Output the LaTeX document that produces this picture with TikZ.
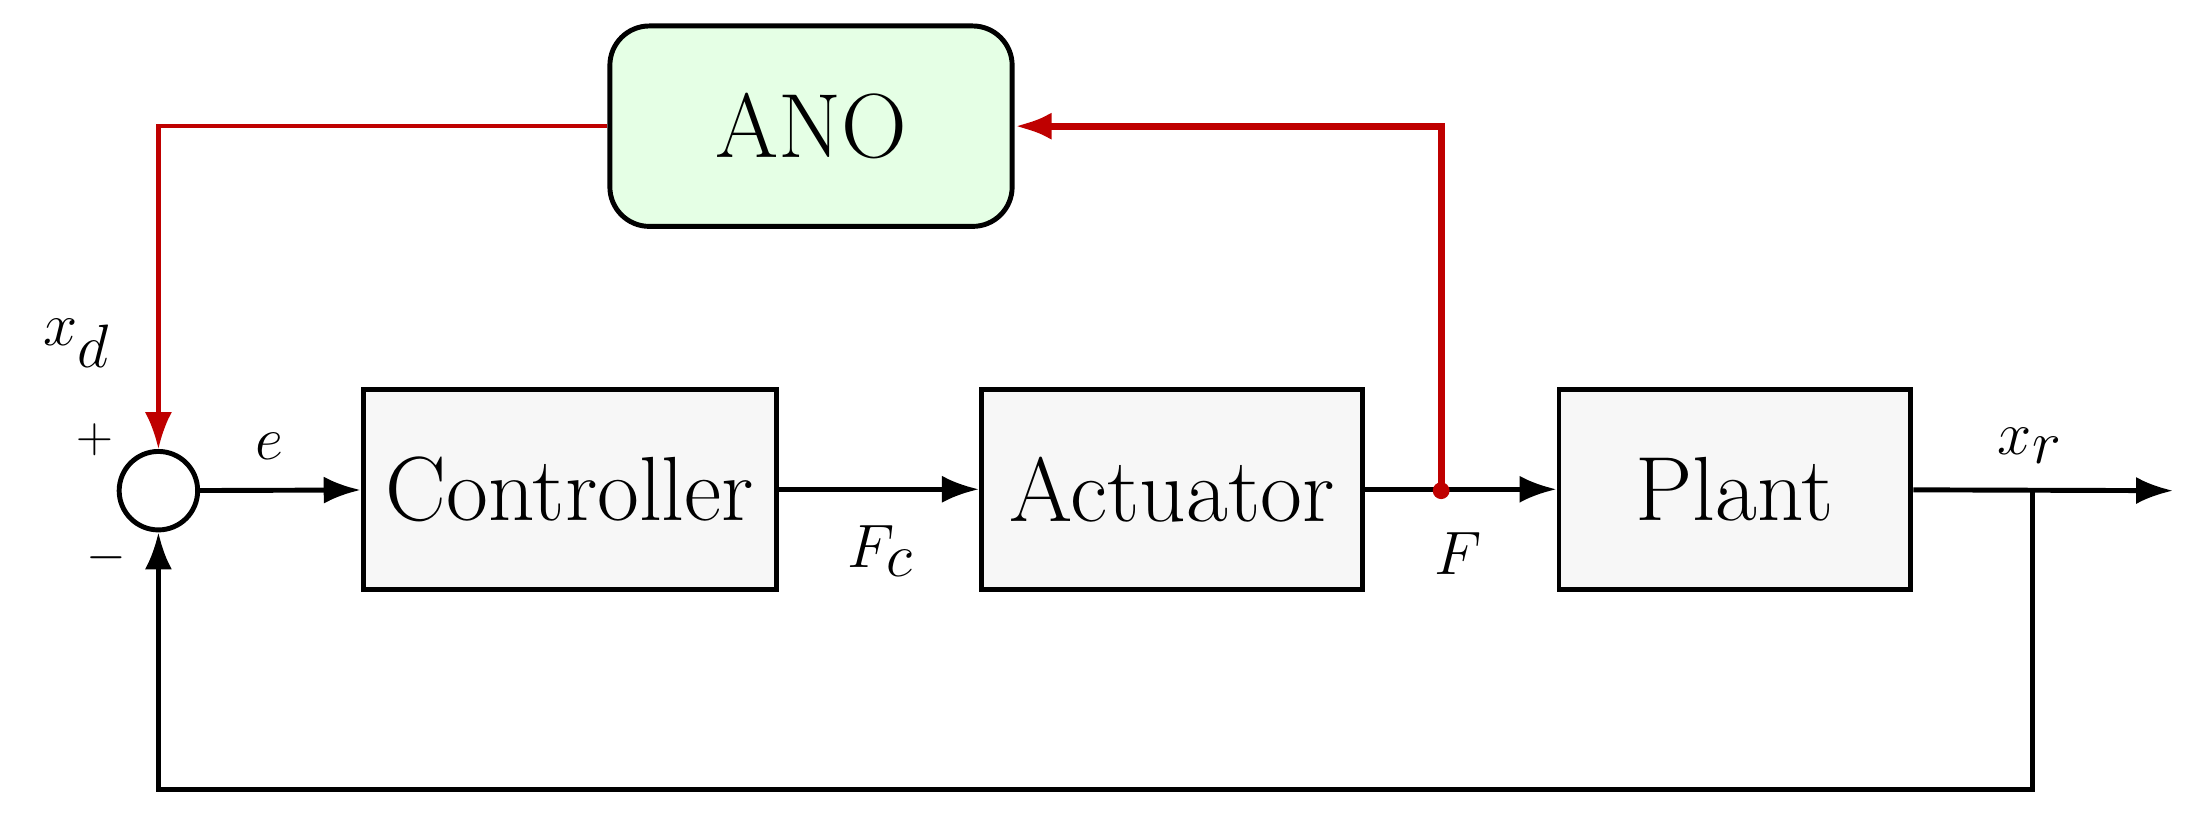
\documentclass[tikz,border=0pt]{standalone}
\usetikzlibrary{arrows.meta}
\begin{document}
\begin{tikzpicture}[x=0.02cm,y=-0.02cm,
  blk/.style={draw,line width=2pt,fill=black!3,minimum width=5.9cm,minimum height=2.86cm,font=\fontsize{37}{44}\selectfont},
  wire/.style={line width=2pt},
  arr/.style={-{Latex[length=15pt,width=11pt]}},
  lbl/.style={font=\fontsize{37}{44}\selectfont},
  red1/.style={draw=red!75!black,line width=1.7pt},
  red2/.style={draw=red!75!black,line width=2.8pt}]
\useasboundingbox (0,0) rectangle (1560,592);
\node[draw,circle,line width=2pt,minimum size=1.12cm,inner sep=0] (sum) at (113,350) {};
\node[blk] (ctl) at (406.5,349) {Controller};
\node[blk,minimum width=5.44cm] (act) at (836,349) {Actuator};
\node[blk,minimum width=5.02cm] (pl) at (1237.5,349) {Plant};
\node[blk,minimum width=5.74cm,rounded corners=16pt,fill=green!10] (ano) at (578.5,90) {ANO};
\coordinate (Fd) at (1028,350);
\coordinate (br) at (1450,350);
\coordinate (out) at (1550,350);
\draw[wire,arr] (sum) -- (ctl);
\draw[wire,arr] (ctl) -- (act);
\draw[wire,arr] (act) -- (pl);
\draw[wire,arr] (pl) -- (out);
\draw[wire,arr] (br) -- (1450,563) -| (sum.south);
\draw[red1,arr] (ano.west) -| (sum.north);
\draw[red2,arr] (Fd) |- (ano.east);
\fill[red!75!black] (Fd) circle (6);
\node[lbl] at (55,245) {$x_d$};
\node[font=\fontsize{22}{26}\selectfont] at (68,314) {$+$};
\node[font=\fontsize{22}{26}\selectfont] at (76,398) {$-$};
\node[lbl] at (192,318) {$e$};
\node[lbl] at (628,393) {$F_c$};
\node[lbl] at (1040,395) {$F$};
\node[lbl] at (1448,318) {$x_r$};
\end{tikzpicture}
\end{document}
